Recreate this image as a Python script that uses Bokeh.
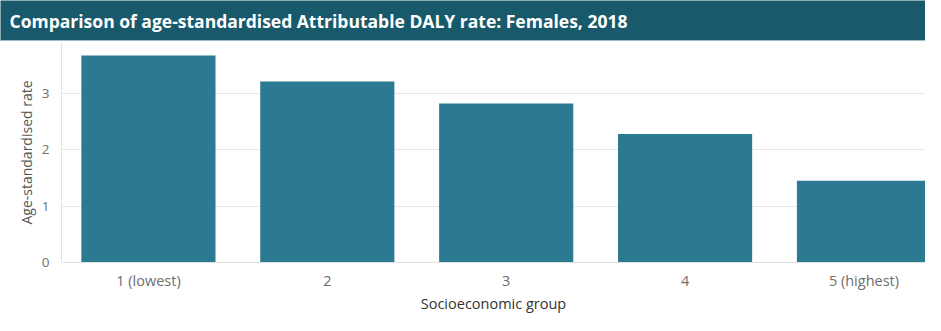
from bokeh.plotting import figure
from bokeh.layouts import column
from bokeh.models import Range1d, FixedTicker, ColumnDataSource
from bokeh.core.properties import value
from bokeh.embed import file_html
from bokeh.resources import INLINE

# ---- data ----
groups = ["1 (lowest)", "2", "3", "4", "5 (highest)"]
rates = [3.67, 3.21, 2.82, 2.28, 1.45]
y_ticks = [0, 1, 2, 3]
title_text = "Comparison of age-standardised Attributable DALY rate:  Females, 2018"
x_title = "Socioeconomic group"
y_title = "Age-standardised rate"

BANNER = "#18596b"
BAR = "#2b7a92"
FONT = "Open Sans"

W = 925
BH = 41

# ---- banner ----
banner = figure(width=W, height=BH, output_backend="svg", toolbar_location=None,
                x_axis_type=None, y_axis_type=None,
                x_range=Range1d(0, W), y_range=Range1d(0, BH),
                min_border=0, min_border_left=0, min_border_right=0,
                min_border_top=0, min_border_bottom=0)
banner.frame_align = False
banner.grid.visible = False
banner.outline_line_color = None
banner.background_fill_color = BANNER
banner.border_fill_color = BANNER
banner.quad(left=[0], right=[W], bottom=[0], top=[1.5], fill_color="#9dbcc6", line_color=None)
banner.text(x=[9], y=[BH - 20], text=[title_text], text_color="white",
            text_font=value(FONT), text_font_style="bold", text_font_size="17.5px",
            text_baseline="middle", text_align="left")

# ---- main chart ----
idx = list(range(len(groups)))
src = ColumnDataSource(dict(x=idx, top=rates, label=groups))

p = figure(width=W, height=315 - BH, output_backend="svg", toolbar_location=None,
           x_range=Range1d(-0.486, 4.344), y_range=Range1d(0, 3.9),
           min_border_left=61, min_border_right=0, min_border_top=1,
           min_border_bottom=50)
p.frame_align = False
p.outline_line_color = None
p.background_fill_color = "white"
p.border_fill_color = "white"

p.vbar(x="x", top="top", width=0.75, bottom=0, source=src,
       fill_color=BAR, line_color=None)

p.xgrid.visible = False
p.ygrid.grid_line_color = "#e6e6e6"
p.ygrid.grid_line_width = 1

p.xaxis.ticker = FixedTicker(ticks=idx)
p.xaxis.major_label_overrides = {i: g for i, g in zip(idx, groups)}
p.yaxis.ticker = FixedTicker(ticks=y_ticks)

for ax in (p.xaxis[0], p.yaxis[0]):
    ax.axis_line_color = "#e2e2e2"
    ax.major_tick_line_color = None
    ax.minor_tick_line_color = None
    ax.major_tick_out = 0
    ax.major_tick_in = 0
    ax.major_label_text_font = FONT
    ax.major_label_text_color = "#6e6e6e"
    ax.axis_label_text_font = FONT
    ax.axis_label_text_font_style = "normal"

p.xaxis.major_label_text_font_size = "14.5px"
p.yaxis.major_label_text_font_size = "13.5px"

p.xaxis.axis_label = x_title
p.xaxis.axis_label_text_color = "#333333"
p.xaxis.axis_label_text_font_size = "14.5px"
p.xaxis.major_label_standoff = 8
p.xaxis.axis_label_standoff = 1

p.yaxis.axis_label = y_title
p.yaxis.axis_label_text_color = "#555555"
p.yaxis.axis_label_text_font_size = "14px"
p.yaxis.major_label_standoff = 12
p.yaxis.axis_label_standoff = 3

layout = column(banner, p, spacing=0)

open("out.html", "w").write(file_html(layout, INLINE))
